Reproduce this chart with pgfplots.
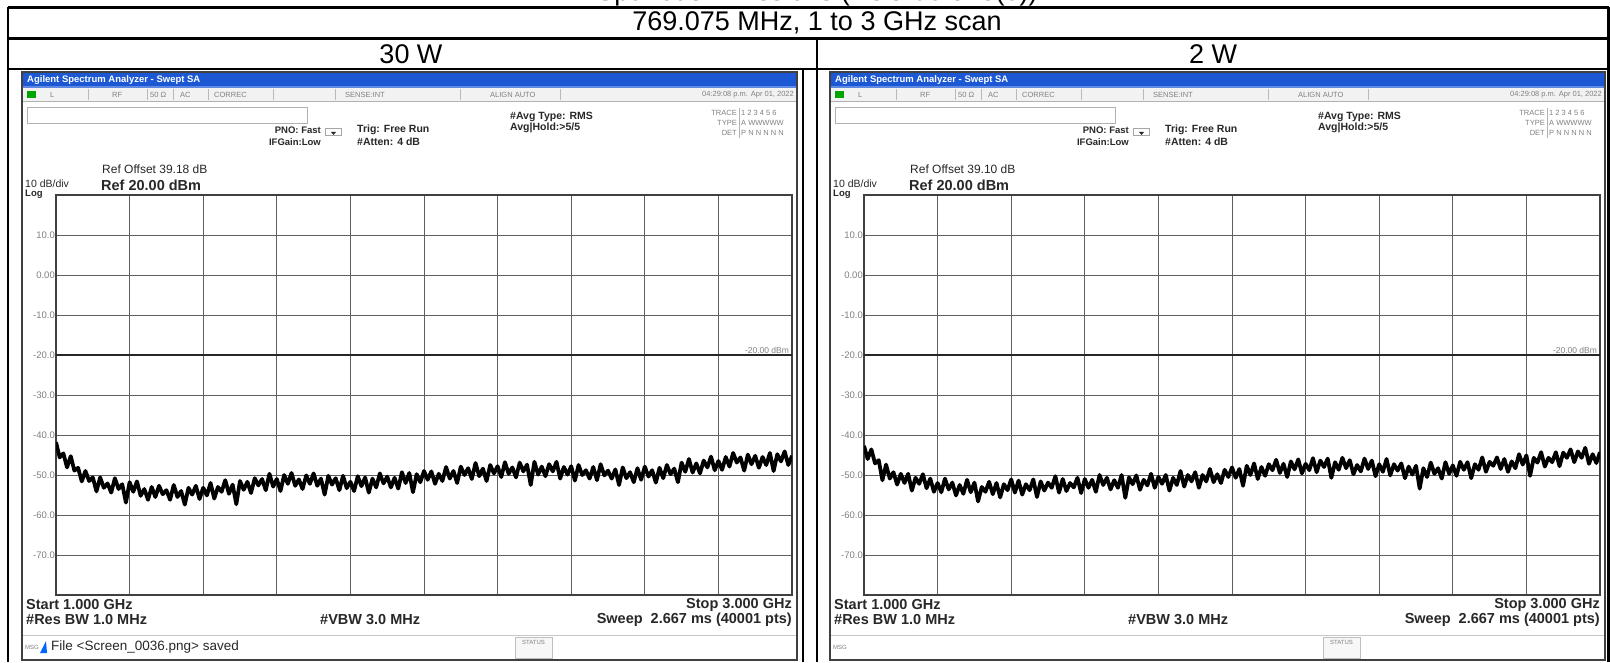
\documentclass[border=0pt]{standalone}
\usepackage{fontspec}
\setmainfont{Liberation Sans}
\usepackage{pgfplots}
\usepackage{pgfplotstable}
\pgfplotsset{compat=1.18}

\definecolor{sabar}{RGB}{28,88,212}
\definecolor{satxt}{RGB}{40,40,40}
\definecolor{sagrid}{RGB}{95,95,95}
\newcommand\fs[1]{\fontsize{#1}{#1}\selectfont}

% RMS trace, 30 W carrier (frequency in GHz, level in dBm)
\pgfplotstableread[row sep=\\]{
f p\\
1.00 -41.8\\ 1.01 -45.6\\ 1.02 -44.6\\ 1.03 -48.1\\ 1.04 -45.3\\ 1.05 -48.9\\ 1.06 -48.2\\ 1.07 -51.6\\ 1.08 -49.0\\ 1.09 -51.5\\
1.10 -50.6\\ 1.11 -54.1\\ 1.12 -50.6\\ 1.13 -53.2\\ 1.14 -52.1\\ 1.15 -54.4\\ 1.16 -50.8\\ 1.17 -53.5\\ 1.18 -52.3\\ 1.19 -56.9\\
1.20 -51.8\\ 1.21 -54.2\\ 1.22 -51.6\\ 1.23 -55.2\\ 1.24 -53.5\\ 1.25 -56.2\\ 1.26 -53.0\\ 1.27 -55.5\\ 1.28 -52.7\\ 1.29 -54.8\\
1.30 -53.8\\ 1.31 -56.2\\ 1.32 -52.5\\ 1.33 -55.5\\ 1.34 -54.0\\ 1.35 -57.4\\ 1.36 -53.2\\ 1.37 -54.9\\ 1.38 -52.7\\ 1.39 -56.0\\
1.40 -53.2\\ 1.41 -55.1\\ 1.42 -52.0\\ 1.43 -55.9\\ 1.44 -53.0\\ 1.45 -54.2\\ 1.46 -51.3\\ 1.47 -54.7\\ 1.48 -52.4\\ 1.49 -57.3\\
1.50 -51.5\\ 1.51 -53.7\\ 1.52 -51.7\\ 1.53 -54.5\\ 1.54 -50.8\\ 1.55 -52.6\\ 1.56 -51.0\\ 1.57 -53.8\\ 1.58 -49.7\\ 1.59 -52.9\\
1.60 -51.0\\ 1.61 -54.0\\ 1.62 -50.0\\ 1.63 -52.2\\ 1.64 -49.5\\ 1.65 -52.7\\ 1.66 -51.1\\ 1.67 -53.5\\ 1.68 -50.1\\ 1.69 -52.2\\
1.70 -49.6\\ 1.71 -52.7\\ 1.72 -50.9\\ 1.73 -54.9\\ 1.74 -50.2\\ 1.75 -52.4\\ 1.76 -50.8\\ 1.77 -53.8\\ 1.78 -50.2\\ 1.79 -53.3\\
1.80 -51.7\\ 1.81 -54.0\\ 1.82 -50.3\\ 1.83 -52.8\\ 1.84 -50.6\\ 1.85 -54.4\\ 1.86 -50.9\\ 1.87 -53.1\\ 1.88 -49.6\\ 1.89 -52.1\\
1.90 -50.4\\ 1.91 -53.1\\ 1.92 -50.7\\ 1.93 -53.4\\ 1.94 -49.3\\ 1.95 -52.0\\ 1.96 -49.5\\ 1.97 -54.3\\ 1.98 -49.8\\ 1.99 -51.8\\
2.00 -49.0\\ 2.01 -51.2\\ 2.02 -49.1\\ 2.03 -52.2\\ 2.04 -49.7\\ 2.05 -51.5\\ 2.06 -48.0\\ 2.07 -50.9\\ 2.08 -49.0\\ 2.09 -52.0\\
2.10 -47.9\\ 2.11 -50.0\\ 2.12 -48.3\\ 2.13 -51.0\\ 2.14 -47.0\\ 2.15 -50.3\\ 2.16 -48.4\\ 2.17 -51.5\\ 2.18 -47.5\\ 2.19 -49.6\\
2.20 -47.8\\ 2.21 -50.5\\ 2.22 -46.8\\ 2.23 -49.7\\ 2.24 -48.1\\ 2.25 -50.6\\ 2.26 -46.9\\ 2.27 -49.1\\ 2.28 -47.4\\ 2.29 -52.5\\
2.30 -46.7\\ 2.31 -49.9\\ 2.32 -47.9\\ 2.33 -50.3\\ 2.34 -47.3\\ 2.35 -49.1\\ 2.36 -46.7\\ 2.37 -50.9\\ 2.38 -48.0\\ 2.39 -49.9\\
2.40 -47.8\\ 2.41 -51.4\\ 2.42 -47.5\\ 2.43 -50.0\\ 2.44 -48.8\\ 2.45 -50.9\\ 2.46 -48.0\\ 2.47 -51.3\\ 2.48 -47.3\\ 2.49 -50.1\\
2.50 -48.9\\ 2.51 -50.9\\ 2.52 -48.6\\ 2.53 -52.5\\ 2.54 -48.1\\ 2.55 -50.8\\ 2.56 -49.3\\ 2.57 -51.8\\ 2.58 -48.3\\ 2.59 -51.2\\
2.60 -47.9\\ 2.61 -50.4\\ 2.62 -48.8\\ 2.63 -51.9\\ 2.64 -48.2\\ 2.65 -50.8\\ 2.66 -47.5\\ 2.67 -49.8\\ 2.68 -48.4\\ 2.69 -51.8\\
2.70 -46.9\\ 2.71 -49.2\\ 2.72 -46.0\\ 2.73 -49.4\\ 2.74 -47.1\\ 2.75 -49.6\\ 2.76 -46.4\\ 2.77 -48.1\\ 2.78 -45.4\\ 2.79 -48.8\\
2.80 -46.5\\ 2.81 -48.7\\ 2.82 -45.5\\ 2.83 -47.9\\ 2.84 -44.5\\ 2.85 -46.9\\ 2.86 -45.6\\ 2.87 -48.9\\ 2.88 -44.9\\ 2.89 -47.3\\
2.90 -45.2\\ 2.91 -48.2\\ 2.92 -45.5\\ 2.93 -47.5\\ 2.94 -44.5\\ 2.95 -49.0\\ 2.96 -44.8\\ 2.97 -46.6\\ 2.98 -44.1\\ 2.99 -47.5\\
3.00 -45.2\\
}\thirtyW

% RMS trace, 2 W carrier
\pgfplotstableread[row sep=\\]{
f p\\
1.00 -42.7\\ 1.01 -46.0\\ 1.02 -43.6\\ 1.03 -47.1\\ 1.04 -46.3\\ 1.05 -51.3\\ 1.06 -47.4\\ 1.07 -50.9\\ 1.08 -49.3\\ 1.09 -52.4\\
1.10 -49.7\\ 1.11 -52.0\\ 1.12 -49.7\\ 1.13 -53.9\\ 1.14 -50.7\\ 1.15 -52.2\\ 1.16 -49.8\\ 1.17 -53.3\\ 1.18 -50.9\\ 1.19 -54.2\\
1.20 -52.0\\ 1.21 -54.3\\ 1.22 -50.9\\ 1.23 -53.6\\ 1.24 -51.9\\ 1.25 -55.1\\ 1.26 -52.5\\ 1.27 -54.7\\ 1.28 -51.2\\ 1.29 -54.3\\
1.30 -51.9\\ 1.31 -56.6\\ 1.32 -53.0\\ 1.33 -54.2\\ 1.34 -51.7\\ 1.35 -54.8\\ 1.36 -52.0\\ 1.37 -55.6\\ 1.38 -52.3\\ 1.39 -53.8\\
1.40 -51.1\\ 1.41 -54.4\\ 1.42 -51.4\\ 1.43 -54.9\\ 1.44 -52.3\\ 1.45 -53.8\\ 1.46 -51.1\\ 1.47 -55.5\\ 1.48 -51.6\\ 1.49 -53.9\\
1.50 -51.9\\ 1.51 -53.2\\ 1.52 -50.3\\ 1.53 -54.4\\ 1.54 -51.0\\ 1.55 -54.0\\ 1.56 -52.0\\ 1.57 -53.1\\ 1.58 -50.7\\ 1.59 -54.5\\
1.60 -51.0\\ 1.61 -53.2\\ 1.62 -51.2\\ 1.63 -54.2\\ 1.64 -50.0\\ 1.65 -52.5\\ 1.66 -50.7\\ 1.67 -53.6\\ 1.68 -51.3\\ 1.69 -53.2\\
1.70 -50.0\\ 1.71 -55.7\\ 1.72 -50.6\\ 1.73 -52.3\\ 1.74 -50.1\\ 1.75 -53.7\\ 1.76 -51.2\\ 1.77 -52.6\\ 1.78 -49.7\\ 1.79 -53.2\\
1.80 -50.5\\ 1.81 -52.2\\ 1.82 -50.0\\ 1.83 -53.9\\ 1.84 -50.7\\ 1.85 -52.5\\ 1.86 -49.0\\ 1.87 -52.9\\ 1.88 -50.0\\ 1.89 -51.6\\
1.90 -49.3\\ 1.91 -53.2\\ 1.92 -50.0\\ 1.93 -51.6\\ 1.94 -48.5\\ 1.95 -51.8\\ 1.96 -49.8\\ 1.97 -52.0\\ 1.98 -48.7\\ 1.99 -50.5\\
2.00 -48.1\\ 2.01 -50.7\\ 2.02 -48.5\\ 2.03 -52.7\\ 2.04 -47.7\\ 2.05 -50.0\\ 2.06 -47.1\\ 2.07 -51.0\\ 2.08 -48.0\\ 2.09 -50.2\\
2.10 -47.3\\ 2.11 -48.8\\ 2.12 -46.2\\ 2.13 -49.5\\ 2.14 -47.2\\ 2.15 -50.5\\ 2.16 -46.6\\ 2.17 -48.6\\ 2.18 -46.1\\ 2.19 -49.6\\
2.20 -47.2\\ 2.21 -48.8\\ 2.22 -45.8\\ 2.23 -49.3\\ 2.24 -46.4\\ 2.25 -48.0\\ 2.26 -45.9\\ 2.27 -50.7\\ 2.28 -46.8\\ 2.29 -48.7\\
2.30 -45.7\\ 2.31 -48.3\\ 2.32 -46.3\\ 2.33 -49.8\\ 2.34 -47.5\\ 2.35 -49.1\\ 2.36 -45.9\\ 2.37 -48.5\\ 2.38 -46.4\\ 2.39 -50.3\\
2.40 -47.3\\ 2.41 -49.2\\ 2.42 -46.0\\ 2.43 -50.1\\ 2.44 -47.3\\ 2.45 -48.9\\ 2.46 -47.1\\ 2.47 -50.8\\ 2.48 -47.9\\ 2.49 -49.9\\
2.50 -47.7\\ 2.51 -53.4\\ 2.52 -48.3\\ 2.53 -50.5\\ 2.54 -46.9\\ 2.55 -49.7\\ 2.56 -48.3\\ 2.57 -50.9\\ 2.58 -46.8\\ 2.59 -49.7\\
2.60 -47.6\\ 2.61 -50.2\\ 2.62 -46.7\\ 2.63 -48.7\\ 2.64 -46.8\\ 2.65 -50.8\\ 2.66 -47.3\\ 2.67 -48.7\\ 2.68 -45.6\\ 2.69 -49.2\\
2.70 -46.7\\ 2.71 -47.7\\ 2.72 -45.6\\ 2.73 -48.5\\ 2.74 -46.0\\ 2.75 -49.2\\ 2.76 -46.6\\ 2.77 -48.3\\ 2.78 -44.8\\ 2.79 -47.4\\
2.80 -45.1\\ 2.81 -50.2\\ 2.82 -45.7\\ 2.83 -46.9\\ 2.84 -44.3\\ 2.85 -47.9\\ 2.86 -45.7\\ 2.87 -46.8\\ 2.88 -44.3\\ 2.89 -47.8\\
2.90 -44.4\\ 2.91 -45.7\\ 2.92 -43.6\\ 2.93 -46.8\\ 2.94 -44.1\\ 2.95 -45.7\\ 2.96 -43.2\\ 2.97 -47.2\\ 2.98 -44.8\\ 2.99 -47.0\\
3.00 -44.3\\
}\twoW

\pgfplotsset{
  sa/.style={
    scale only axis, width=736pt, height=400pt, anchor=south west,
    xmin=1, xmax=3, ymin=-80, ymax=20,
    xtick={1.2,1.4,1.6,1.8,2.0,2.2,2.4,2.6,2.8}, xticklabels={},
    ytick={-70,-60,-50,-40,-30,-20,-10,0,10},
    yticklabels={-70.0,-60.0,-50.0,-40.0,-30.0,-20.0,-10.0,0.00,10.0},
    yticklabel style={font=\fs{9.5}, text=gray, inner xsep=1pt},
    major tick length=0pt,
    grid=major, major grid style={sagrid, line width=1pt},
    axis line style={black!75, line width=1.8pt},
  },
  trace/.style={black, line width=3.8pt, line join=round, mark=none},
  dline/.style={black!85, line width=1.6pt, mark=none},
}

% analyzer window frame and annotations
\newcommand\chrome[2]{%
  \fill[white] (22,590) rectangle (797,2);
  \fill[sabar] (23,589) rectangle (796,574);
  \fill[sabar!70!white] (23,576) rectangle (796,574);
  \node[anchor=west, text=white, font=\fs{9.5}\bfseries, inner sep=0pt] at (27,582) {Agilent Spectrum Analyzer - Swept SA};
  \fill[gray!10] (23,574) rectangle (796,561);
  \draw[gray!60] (23,561) -- (796,561);
  \fill[green!65!black] (27,571) rectangle (36,564);
  \foreach \x in {88,147,173,208,273,335,460,560}{\draw[gray!55] (\x,573) -- (\x,562);}
  \begin{scope}[every node/.style={font=\fs{7.5}, text=gray, anchor=west, inner sep=0pt}]
    \node at (50,567.5) {L};
    \node at (112,567.5) {RF};
    \node at (150,567.5) {50 Ω};
    \node at (180,567.5) {AC};
    \node at (214,567.5) {CORREC};
    \node at (345,567.5) {SENSE:INT};
    \node at (490,567.5) {ALIGN AUTO};
    \node[anchor=east] at (794,567.5) {04:29:08 p.m. Apr 01, 2022};
  \end{scope}
  \draw[gray!60, fill=white] (27,555) rectangle (307,539);
  \begin{scope}[every node/.style={font=\fs{9.5}\bfseries, text=satxt, inner sep=0pt}]
    \node[anchor=east] at (321,532) {PNO: Fast};
    \node[anchor=east] at (321,520) {IFGain:Low};
  \end{scope}
  \begin{scope}[every node/.style={font=\fs{10.5}\bfseries, text=satxt, inner sep=0pt}]
    \node[anchor=west] at (357,532) {Trig: Free Run};
    \node[anchor=west] at (357,520) {\#Atten: 4 dB};
    \node[anchor=west] at (510,545) {\#Avg Type: RMS};
    \node[anchor=west] at (510,534) {Avg|Hold:>5/5};
  \end{scope}
  \draw[gray!70, line width=0.8pt] (325,534) rectangle (341,527);
  \fill[satxt] (331,530) -- (336,530) -- (333.5,527) -- cycle;
  \begin{scope}[every node/.style={font=\fs{7.5}, text=gray, inner sep=0pt}]
    \node[anchor=east] at (737,549) {TRACE};
    \node[anchor=east] at (737,539) {TYPE};
    \node[anchor=east] at (737,529) {DET};
    \node[anchor=west] at (741,549) {1 2 3 4 5 6};
    \node[anchor=west] at (741,539) {A WWWWW};
    \node[anchor=west] at (741,529) {P N N N N N};
  \end{scope}
  \draw[gray!60] (739,554) -- (739,524);
  \node[anchor=west, font=\fs{12}, text=satxt, inner sep=0pt] at (102,493) {Ref Offset #1 dB};
  \node[anchor=west, font=\fs{14.5}\bfseries, text=satxt, inner sep=0pt] at (101,477) {Ref 20.00 dBm};
  \node[anchor=west, font=\fs{10.5}, text=satxt, inner sep=0pt] at (25,478) {10 dB/div};
  \node[anchor=west, font=\fs{9.5}\bfseries, text=satxt, inner sep=0pt] at (25,467.5) {Log};
  \begin{scope}[every node/.style={font=\fs{14.5}\bfseries, text=satxt, inner sep=0pt}]
    \node[anchor=west] at (26,57) {Start 1.000 GHz};
    \node[anchor=west] at (26,42) {\#Res BW 1.0 MHz};
    \node[anchor=west] at (320,42) {\#VBW 3.0 MHz};
    \node[anchor=east] at (792,57) {Stop 3.000 GHz};
    \node[anchor=east] at (792,42) {Sweep\ \ 2.667 ms (40001 pts)};
  \end{scope}
  \draw[gray!45] (23,27) -- (796,27);
  \node[anchor=west, font=\fs{6}, text=gray, inner sep=0pt] at (25,15) {MSG};
  #2
  \draw[gray!50, fill=gray!6] (515,25) rectangle (552,4);
  \node[font=\fs{6}, text=gray] at (533.5,20) {STATUS};
  \draw[black!75, line width=2pt] (22,590) rectangle (797,2);
}

\begin{document}
\begin{tikzpicture}[x=1pt, y=1pt]
\useasboundingbox (0,0) rectangle (1610,662);

% table rules
\begin{scope}[line width=2.2pt]
  \draw (8,654.5) -- (1609,654.5);
  \draw (8,623.5) -- (1609,623.5);
  \draw (8,593) -- (1609,593);
  \draw (8,654.5) -- (8,0);
  \draw (1608.5,654.5) -- (1608.5,0);
  \draw (817,623.5) -- (817,0);
  \draw (803,593) -- (803,0);
\end{scope}

\node[font=\fs{27}, anchor=base] at (817,661.3) {Spurious Emissions (FCC 90.543(e))};
\node[font=\fs{27}] at (817,639) {769.075 MHz, 1 to 3 GHz scan};
\node[font=\fs{27}] at (411,608) {30 W};
\node[font=\fs{27}] at (1213,608) {2 W};

\chrome{39.18}{%
  \fill[blue!60!cyan] (40,9) -- (46,21) -- (47,9) -- cycle;
  \node[anchor=west, font=\fs{13.5}, text=satxt, inner sep=0pt] at (51,15) {File <Screen\_0036.png> saved};}
\begin{scope}[xshift=808pt]
  \chrome{39.10}{}
\end{scope}

\coordinate (leftgrid) at (56,67);
\coordinate (rightgrid) at (864,67);

\begin{axis}[sa, at={(leftgrid)}]
  \addplot[dline] coordinates {(1,-20) (3,-20)};
  \addplot[trace] table[x=f, y=p] {\thirtyW};
  \node[anchor=south east, font=\fs{8.5}, text=gray, inner sep=1pt] at (axis cs:2.995,-20) {-20.00 dBm};
\end{axis}

\begin{axis}[sa, at={(rightgrid)}]
  \addplot[dline] coordinates {(1,-20) (3,-20)};
  \addplot[trace] table[x=f, y=p] {\twoW};
  \node[anchor=south east, font=\fs{8.5}, text=gray, inner sep=1pt] at (axis cs:2.995,-20) {-20.00 dBm};
\end{axis}
\end{tikzpicture}
\end{document}
